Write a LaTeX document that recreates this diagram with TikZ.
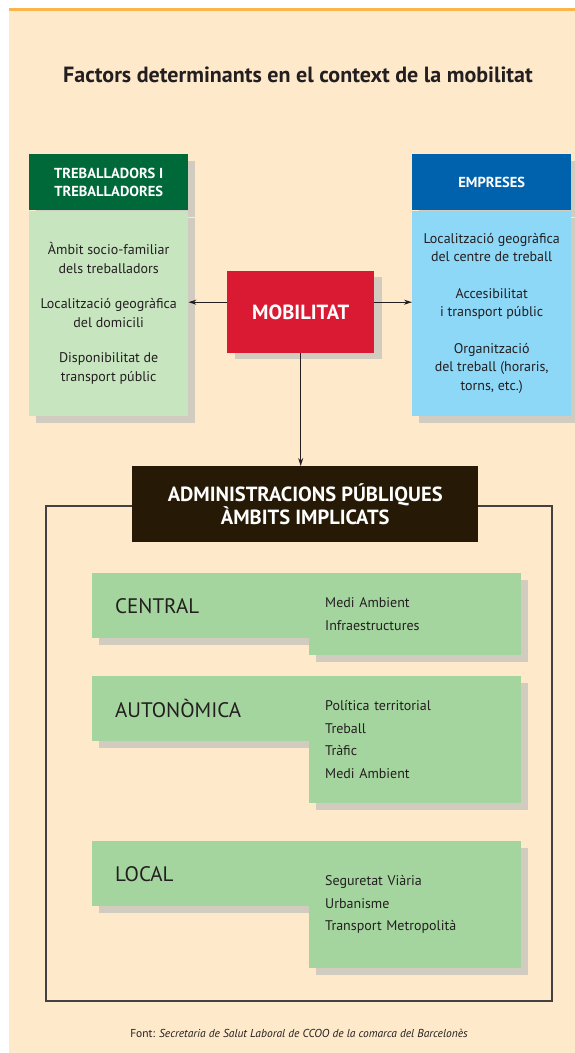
\documentclass[tikz,border=0pt]{standalone}
\usepackage{fontspec}
\setmainfont{PT Sans}
\usetikzlibrary{arrows.meta,shadows}
\definecolor{fons}{HTML}{FEE9CB}
\definecolor{taronja}{HTML}{F9B54C}
\definecolor{verdfosc}{HTML}{00693A}
\definecolor{verdclar}{HTML}{C7E5BF}
\definecolor{blaufosc}{HTML}{0062AD}
\definecolor{blauclar}{HTML}{8DD7F7}
\definecolor{vermell}{HTML}{DA1A32}
\definecolor{gris}{HTML}{D2CBBF}
\definecolor{marro}{HTML}{261906}
\definecolor{verdmig}{HTML}{A5D59F}
\definecolor{tinta}{HTML}{231F20}

\begin{document}
\begin{tikzpicture}[x=1pt,y=-1pt,
	ombra/.style={general shadow={fill=gris, shadow xshift=7pt, shadow yshift=-7pt}},
	capcal/.style={ombra, anchor=north west, minimum width=159pt, minimum height=56pt, inner sep=0pt, align=center, text=white, font=\fontsize{14.5}{18}\selectfont\bfseries},
	cos/.style={ombra, anchor=north, minimum width=159pt, minimum height=205pt, inner sep=0pt, align=center, text=tinta, font=\fontsize{14}{18.5}\selectfont},
	fletxa/.style={tinta, line width=1pt, -{Stealth[length=8pt,width=5pt]}},
	ambit/.style={ombra, fill=verdmig, anchor=north west, minimum height=65pt, text width=383pt, inner xsep=23pt, inner ysep=0pt, align=left, text=tinta, font=\fontsize{21}{24}\selectfont},
	llista/.style={ombra, fill=verdmig, anchor=north west, text width=180pt, inner xsep=16pt, inner ysep=0pt, align=left, text=tinta, font=\fontsize{14}{22.5}\selectfont}]
	\useasboundingbox (0,0) rectangle (575,1053);
	\fill[fons] (9,9) rectangle (575,1053);
	\draw[taronja, line width=2.5pt] (9,9.5) -- (575,9.5);
	\node[text=tinta, font=\fontsize{22}{26}\selectfont\bfseries] (titol) at (298,75) {Factors determinants en el context de la mobilitat};

	\node[capcal, fill=verdfosc] (trabcap) at (29,154) {TREBALLADORS I\\TREBALLADORES};
	\node[cos, fill=verdclar] (trab) at (trabcap.south) {Àmbit socio-familiar\\dels treballadors\\[17pt]Localització geogràfica\\del domicili\\[17pt]Disponibilitat de\\transport públic};
	\node[capcal, fill=blaufosc] (empcap) at (412,154) {EMPRESES};
	\node[cos, fill=blauclar] (emp) at (empcap.south) {Localització geogràfica\\del centre de treball\\[18pt]Accesibilitat\\i transport públic\\[18pt]Organització\\del treball (horaris,\\torns, etc.)};

	\node[general shadow={fill=gris, shadow xshift=8pt, shadow yshift=-6pt}, fill=vermell, anchor=north west, minimum width=147pt, minimum height=82pt, inner sep=0pt, text=white, font=\fontsize{20.5}{24}\selectfont\bfseries] (mob) at (227,271) {MOBILITAT};
	\draw[fletxa] ([yshift=10pt]mob.west) -- ([yshift=10pt]mob.west -| trab.east);
	\draw[fletxa] ([yshift=10pt]mob.east) -- ([yshift=10pt]mob.east -| emp.west);

	\draw[tinta!85, line width=1.3pt] (46,506) rectangle (552,1001);
	\node[fill=marro, anchor=north west, minimum width=346pt, minimum height=76pt, inner sep=0pt, align=center, text=white, font=\fontsize{20.5}{23}\selectfont\bfseries] (adm) at (132,466) {ADMINISTRACIONS PÚBLIQUES\\ÀMBITS IMPLICATS};
	\draw[fletxa] (mob.south) -- (mob.south |- adm.north);

	\node[ambit] (cen) at (92,573) {CENTRAL};
	\node[llista, minimum height=82pt] (cenl) at (309,573) {Medi Ambient\\Infraestructures};
	\node[ambit] (aut) at (92,676) {AUTONÒMICA};
	\node[llista, minimum height=127pt] (autl) at (309,676) {Política territorial\\Treball\\Tràfic\\Medi Ambient};
	\node[ambit] (loc) at (92,841) {LOCAL};
	\node[llista, minimum height=127pt] (locl) at (309,841) {Seguretat Viària\\Urbanisme\\Transport Metropolità};

	\node[text=tinta, font=\fontsize{11.5}{13}\selectfont] (font) at (299,1033) {Font: \textit{Secretaria de Salut Laboral de CCOO de la comarca del Barcelonès}};
\end{tikzpicture}
\end{document}
